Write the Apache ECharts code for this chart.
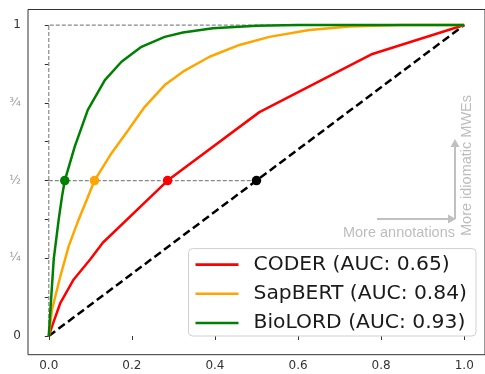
<!DOCTYPE html>
<html>
<head>
<meta charset="utf-8">
<script src="https://cdn.jsdelivr.net/npm/echarts@6/dist/echarts.min.js"></script>
<style>html,body{margin:0;padding:0;background:#fff}#c{width:485px;height:374px}</style>
</head>
<body>
<div id="c"></div>
<script>
// ---- data ----
const coderX = [0, 0.008, 0.028, 0.06, 0.1, 0.13, 0.286, 0.507, 0.779, 1];
const coderY = [0, 0.032, 0.107, 0.182, 0.247, 0.3, 0.5, 0.72, 0.907, 1];
const sapX = [0, 0.008, 0.028, 0.048, 0.072, 0.092, 0.11, 0.151, 0.191, 0.231, 0.279, 0.323, 0.387, 0.459, 0.531, 0.627, 0.724, 0.85, 1];
const sapY = [0, 0.086, 0.193, 0.289, 0.375, 0.44, 0.5, 0.588, 0.662, 0.737, 0.807, 0.85, 0.898, 0.936, 0.962, 0.984, 0.995, 1, 1];
const bioX = [0, 0.004, 0.012, 0.024, 0.032, 0.0385, 0.0625, 0.094, 0.135, 0.175, 0.223, 0.279, 0.323, 0.395, 0.5, 0.6, 1];
const bioY = [0, 0.086, 0.248, 0.376, 0.45, 0.5, 0.609, 0.727, 0.823, 0.882, 0.93, 0.962, 0.976, 0.99, 0.998, 1, 1];
const randomX = [0, 1];
const randomY = [0, 1];
const perfectX = [0, 0, 1];
const perfectY = [0, 1, 1];
const halfX = [0, 0.5];
const halfY = [0.5, 0.5];
const dotX = [0.0385, 0.11, 0.286, 0.5];
const dotY = [0.5, 0.5, 0.5, 0.5];
const dotColors = ['#008000', '#ffa500', '#ff0000', '#000000'];
const names = ['CODER (AUC: 0.65)', 'SapBERT (AUC: 0.84)', 'BioLORD (AUC: 0.93)'];
const xTicks = [0, 0.2, 0.4, 0.6, 0.8, 1.0];
const yTicks = [0, 0.125, 0.25, 0.375, 0.5, 0.625, 0.75, 0.875, 1];
const yLabels = [0, 0.25, 0.5, 0.75, 1];
const yLabelText = {0: '0', 0.25: '¼', 0.5: '½', 0.75: '¾', 1: '1'};

const zip = (xs, ys) => xs.map((x, i) => [x, ys[i]]);
const chart = echarts.init(document.getElementById('c'));
const font = 'DejaVu Sans';
const annFont = '14.5px "Liberation Sans", Arial, sans-serif';
chart.setOption({
  animation: false,
  grid: {left: 28, top: 9.5, width: 458, height: 345.2, show: true, borderColor: '#333', borderWidth: 1, backgroundColor: 'transparent'},
  xAxis: {
    type: 'value', min: -0.05, max: 1.05,
    axisLine: {show: false}, splitLine: {show: false},
    axisTick: {show: true, customValues: xTicks, length: 4, lineStyle: {color: '#333'}},
    axisLabel: {customValues: xTicks, formatter: v => v.toFixed(1), color: '#333', fontFamily: font, fontSize: 12, margin: 5}
  },
  yAxis: {
    type: 'value', min: -0.06, max: 1.05,
    axisLine: {show: false}, splitLine: {show: false},
    axisTick: {show: true, customValues: yTicks, length: 4, lineStyle: {color: '#333'}},
    axisLabel: {
      customValues: yLabels, margin: 7, fontFamily: font,
      formatter: v => {
        const t = yLabelText[v];
        return (v === 0 || v === 1) ? '{a|' + t + '}' : '{b|' + t + '}';
      },
      rich: {a: {color: '#333', fontSize: 12, fontFamily: font}, b: {color: '#9a9a9a', fontSize: 12, fontFamily: font}}
    }
  },
  legend: {
    data: names, right: 9, bottom: 38, orient: 'vertical',
    icon: 'rect', itemWidth: 43, itemHeight: 2.6, itemGap: 9.2,
    padding: [6, 9, 3, 7],
    backgroundColor: 'rgba(255,255,255,0.85)', borderColor: '#d0d0d0', borderWidth: 1, borderRadius: 4,
    textStyle: {fontFamily: font, fontSize: 20.3, color: '#1a1a1a', padding: [0, 0, 0, 10], lineHeight: 20},
    z: 10
  },
  graphic: [
    {type: 'line', shape: {x1: 377, y1: 219, x2: 449, y2: 219}, style: {stroke: '#c0c0c0', lineWidth: 2}},
    {type: 'polygon', shape: {points: [[448, 214.5], [456, 219], [448, 223.5]]}, style: {fill: '#c0c0c0'}},
    {type: 'line', shape: {x1: 455, y1: 219, x2: 455, y2: 146}, style: {stroke: '#c0c0c0', lineWidth: 2}},
    {type: 'polygon', shape: {points: [[450.5, 147], [455, 139], [459.5, 147]]}, style: {fill: '#c0c0c0'}},
    {type: 'text', x: 455, y: 240, style: {text: 'More annotations', fill: '#bdbdbd', font: annFont, textAlign: 'right', textVerticalAlign: 'bottom'}},
    {type: 'text', x: 467, y: 236, rotation: Math.PI / 2, style: {text: 'More idiomatic MWEs', fill: '#bdbdbd', font: annFont, textAlign: 'left', textVerticalAlign: 'middle'}}
  ],
  series: [
    {type: 'line', data: zip(perfectX, perfectY), symbol: 'none', silent: true, z: 1,
     lineStyle: {color: '#888', width: 1.2, type: [4, 2]}},
    {type: 'line', data: zip(halfX, halfY), symbol: 'none', silent: true, z: 1,
     lineStyle: {color: '#888', width: 1.2, type: [4, 2]}},
    {type: 'line', data: zip(randomX, randomY), symbol: 'none', silent: true, z: 2,
     lineStyle: {color: '#000', width: 2.5, type: [8, 4]}},
    {name: names[0], type: 'line', data: zip(coderX, coderY), symbol: 'none', z: 3,
     itemStyle: {color: '#ff0000'}, lineStyle: {color: '#ff0000', width: 2.5}},
    {name: names[1], type: 'line', data: zip(sapX, sapY), symbol: 'none', z: 3,
     itemStyle: {color: '#ffa500'}, lineStyle: {color: '#ffa500', width: 2.5}},
    {name: names[2], type: 'line', data: zip(bioX, bioY), symbol: 'none', z: 3,
     itemStyle: {color: '#008000'}, lineStyle: {color: '#008000', width: 2.5}},
    {type: 'scatter', data: dotX.map((x, i) => ({value: [x, dotY[i]], itemStyle: {color: dotColors[i], opacity: 1}})),
     symbolSize: 9.5, z: 5, silent: true}
  ]
});
</script>
</body>
</html>
